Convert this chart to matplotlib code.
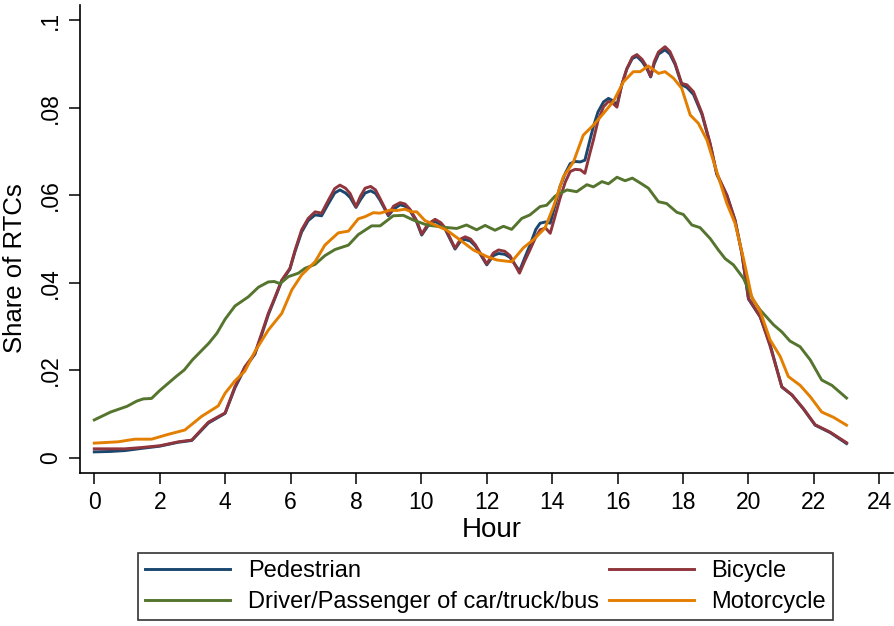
import matplotlib
matplotlib.use("Agg")
import matplotlib.pyplot as plt

plt.rcParams['font.family'] = ['Liberation Sans', 'DejaVu Sans']

# ---- data ----
ped_hours = [0.0, 0.5, 0.94, 1.45, 2.0, 2.57, 2.98, 3.49, 4.0, 4.3, 4.6, 4.91, 5.12, 5.32, 5.53, 5.73,
             5.98, 6.14, 6.34, 6.54, 6.75, 6.95, 7.16, 7.35, 7.51, 7.68, 7.82, 8.0, 8.14, 8.28, 8.45,
             8.6, 8.74, 8.99, 9.15, 9.35, 9.5, 9.65, 9.85, 10.01, 10.2, 10.42, 10.6, 10.73, 11.03,
             11.2, 11.34, 11.5, 11.65, 12.0, 12.2, 12.36, 12.55, 12.71, 13.0, 13.15, 13.32, 13.5,
             13.63, 13.8, 13.94, 14.08, 14.24, 14.4, 14.55, 14.7, 14.86, 15.0, 15.15, 15.26, 15.4,
             15.57, 15.72, 15.85, 15.98, 16.12, 16.28, 16.45, 16.59, 16.75, 16.9, 17.01, 17.12,
             17.25, 17.45, 17.6, 17.76, 17.96, 18.12, 18.32, 18.58, 18.83, 19.03, 19.34, 19.59,
             19.8, 20.0, 20.36, 20.66, 21.02, 21.33, 21.68, 22.04, 22.5, 23.0]
pedestrian = [0.0014, 0.0015, 0.0017, 0.0022, 0.0027, 0.0036, 0.0040, 0.0080, 0.0102, 0.0160, 0.0205,
              0.0237, 0.0282, 0.0327, 0.0366, 0.0404, 0.0431, 0.0472, 0.0516, 0.0542, 0.0555, 0.0553,
              0.0581, 0.0605, 0.0612, 0.0605, 0.0595, 0.0572, 0.0590, 0.0605, 0.0610, 0.0604, 0.0588,
              0.0553, 0.0568, 0.0578, 0.0575, 0.0565, 0.0540, 0.0509, 0.0530, 0.0540, 0.0533, 0.0522,
              0.0477, 0.0495, 0.0499, 0.0495, 0.0484, 0.0441, 0.0462, 0.0467, 0.0465, 0.0458, 0.0427,
              0.0455, 0.0486, 0.0522, 0.0536, 0.0539, 0.0536, 0.0575, 0.0620, 0.0650, 0.0672, 0.0677,
              0.0676, 0.0680, 0.0725, 0.0757, 0.0790, 0.0813, 0.0821, 0.0816, 0.0806, 0.0850, 0.0888,
              0.0912, 0.0917, 0.0905, 0.0888, 0.0870, 0.0900, 0.0922, 0.0932, 0.0922, 0.0898, 0.0852,
              0.0846, 0.0830, 0.0784, 0.0716, 0.0648, 0.0600, 0.0543, 0.0467, 0.0363, 0.0322, 0.0260,
              0.0162, 0.0144, 0.0112, 0.0075, 0.0058, 0.0033]

bic_hours = ped_hours
bicycle = [0.0021, 0.0021, 0.0021, 0.0024, 0.0028, 0.0037, 0.0041, 0.0082, 0.0103, 0.0163, 0.0208,
           0.0239, 0.0285, 0.0330, 0.0368, 0.0406, 0.0433, 0.0475, 0.0521, 0.0547, 0.0562, 0.0559,
           0.0589, 0.0615, 0.0623, 0.0616, 0.0604, 0.0574, 0.0598, 0.0616, 0.0620, 0.0612, 0.0592,
           0.0555, 0.0575, 0.0583, 0.0580, 0.0568, 0.0543, 0.0511, 0.0534, 0.0545, 0.0537, 0.0525,
           0.0479, 0.0500, 0.0505, 0.0500, 0.0487, 0.0443, 0.0468, 0.0475, 0.0472, 0.0462, 0.0422,
           0.0448, 0.0475, 0.0505, 0.0521, 0.0525, 0.0513, 0.0550, 0.0593, 0.0630, 0.0654, 0.0659,
           0.0658, 0.0650, 0.0695, 0.0726, 0.0770, 0.0802, 0.0814, 0.0810, 0.0801, 0.0850, 0.0888,
           0.0915, 0.0921, 0.0910, 0.0892, 0.0871, 0.0905, 0.0927, 0.0939, 0.0928, 0.0901, 0.0855,
           0.0852, 0.0836, 0.0787, 0.0718, 0.0650, 0.0600, 0.0543, 0.0467, 0.0365, 0.0323, 0.0256,
           0.0163, 0.0144, 0.0113, 0.0076, 0.0059, 0.0035]

drv_hours = [0.0, 0.5, 1.0, 1.3, 1.5, 1.75, 2.0, 2.5, 2.75, 3.0, 3.5, 3.75, 4.0, 4.3, 4.71, 5.02, 5.32,
             5.5, 5.68, 5.93, 6.24, 6.44, 6.75, 7.05, 7.36, 7.77, 8.07, 8.48, 8.74, 9.14, 9.45, 9.76,
             10.17, 10.67, 11.08, 11.38, 11.69, 11.95, 12.25, 12.51, 12.76, 13.07, 13.32, 13.63,
             13.83, 14.09, 14.45, 14.75, 15.06, 15.26, 15.52, 15.72, 15.98, 16.23, 16.45, 16.69,
             16.94, 17.25, 17.5, 17.81, 18.01, 18.27, 18.52, 18.83, 19.08, 19.29, 19.54, 19.85,
             20.15, 20.36, 20.77, 21.02, 21.27, 21.58, 21.89, 22.24, 22.55, 23.0]
driver = [0.0087, 0.0105, 0.0118, 0.0130, 0.0135, 0.0136, 0.0154, 0.0186, 0.0201, 0.0224, 0.0262,
          0.0285, 0.0317, 0.0347, 0.0368, 0.0390, 0.0402, 0.0403, 0.0398, 0.0414, 0.0422, 0.0433,
          0.0442, 0.0462, 0.0476, 0.0486, 0.0510, 0.0530, 0.0530, 0.0553, 0.0554, 0.0543, 0.0532,
          0.0527, 0.0524, 0.0532, 0.0521, 0.0531, 0.0520, 0.0529, 0.0522, 0.0547, 0.0555, 0.0574,
          0.0577, 0.0598, 0.0612, 0.0608, 0.0624, 0.0619, 0.0631, 0.0626, 0.0641, 0.0633, 0.0639,
          0.0628, 0.0616, 0.0585, 0.0581, 0.0561, 0.0556, 0.0532, 0.0526, 0.0501, 0.0475, 0.0455,
          0.0441, 0.0410, 0.0360, 0.0338, 0.0304, 0.0288, 0.0267, 0.0254, 0.0224, 0.0178, 0.0166,
          0.0137]

moto_hours = [0.0, 0.73, 1.24, 1.75, 2.26, 2.77, 3.28, 3.79, 4.0, 4.3, 4.6, 4.91, 5.32, 5.73, 6.04,
              6.34, 6.75, 7.05, 7.46, 7.77, 8.07, 8.28, 8.53, 8.74, 9.04, 9.25, 9.5, 9.7, 9.86,
              10.11, 10.42, 10.78, 11.18, 11.59, 12.0, 12.31, 12.76, 13.12, 13.42, 13.78, 14.04,
              14.34, 14.65, 14.95, 15.26, 15.57, 15.87, 16.18, 16.48, 16.69, 16.94, 17.25, 17.45,
              17.71, 17.96, 18.22, 18.47, 18.73, 19.03, 19.34, 19.59, 19.85, 20.1, 20.36, 20.66,
              20.97, 21.22, 21.58, 21.89, 22.24, 22.6, 23.0]
motorcycle = [0.0034, 0.0037, 0.0043, 0.0043, 0.0054, 0.0064, 0.0095, 0.0119, 0.0148, 0.0176, 0.0198,
              0.0243, 0.0292, 0.0330, 0.0384, 0.0418, 0.0448, 0.0486, 0.0514, 0.0518, 0.0546, 0.0551,
              0.0560, 0.0559, 0.0566, 0.0565, 0.0568, 0.0562, 0.0562, 0.0542, 0.0532, 0.0520, 0.0498,
              0.0475, 0.0460, 0.0452, 0.0448, 0.0480, 0.0498, 0.0525, 0.0574, 0.0642, 0.0676, 0.0737,
              0.0760, 0.0787, 0.0814, 0.0859, 0.0882, 0.0882, 0.0895, 0.0878, 0.0882, 0.0867, 0.0844,
              0.0783, 0.0764, 0.0726, 0.0654, 0.0581, 0.0536, 0.0455, 0.0368, 0.0335, 0.0270, 0.0232,
              0.0186, 0.0166, 0.0140, 0.0105, 0.0093, 0.0075]

series_labels = ["Pedestrian", "Bicycle", "Driver/Passenger of car/truck/bus", "Motorcycle"]
colors = ["#1a476f", "#90353b", "#55752f", "#e37e00"]

x_ticks = list(range(0, 25, 2))
y_ticks = [0, 0.02, 0.04, 0.06, 0.08, 0.1]
y_tick_labels = ["0", ".02", ".04", ".06", ".08", ".1"]

# ---- figure ----
fig = plt.figure(figsize=(8.95, 6.26), dpi=100)
ax = fig.add_axes([80/895, 1 - 473/626, (893 - 80)/895, (473 - 5)/626])

handles = []
for h, v, lab, c in zip([ped_hours, bic_hours, drv_hours, moto_hours],
                        [pedestrian, bicycle, driver, motorcycle],
                        series_labels, colors):
    ln, = ax.plot(h, v, color=c, lw=2.1, label=lab, solid_joinstyle='round')
    handles.append(ln)

ax.set_xlim(-0.437, 24.42)
ax.set_ylim(-0.00342, 0.10342)
ax.set_xticks(x_ticks)
ax.set_yticks(y_ticks)
ax.set_yticklabels(y_tick_labels, rotation=90, va='center')
ax.tick_params(axis='both', labelsize=16.5, length=8, width=1.1, color='black', pad=5)
for s in ['top', 'right']:
    ax.spines[s].set_visible(False)
for s in ['left', 'bottom']:
    ax.spines[s].set_linewidth(1.2)
    ax.spines[s].set_color('black')

ax.set_xlabel("Hour", fontsize=20)
ax.set_ylabel("Share of RTCs", fontsize=18.5)
ax.xaxis.set_label_coords((492 - 80) / 813, -(530 - 473) / 468, transform=ax.transAxes)
ax.xaxis.label.set_va('center')
ax.yaxis.set_label_coords(-(80 - 15) / 813, (473 - 268) / 468, transform=ax.transAxes)
ax.yaxis.label.set_va('center')

# row1: Pedestrian | Bicycle, row2: Driver | Motorcycle
order = [0, 2, 1, 3]
leg = fig.legend(handles=[handles[i] for i in order],
                 labels=[series_labels[i] for i in order],
                 loc='lower left', bbox_to_anchor=(138/895, 6/626, 695/895, 72/626),
                 mode='expand', ncol=2, frameon=True, fancybox=False, fontsize=17,
                 handlelength=3.6, handletextpad=0.75, borderaxespad=0, borderpad=0.3,
                 labelspacing=0.36, columnspacing=1.0)
leg.get_frame().set_edgecolor('black')
leg.get_frame().set_linewidth(1.2)

fig.savefig("out.png", dpi=100)
